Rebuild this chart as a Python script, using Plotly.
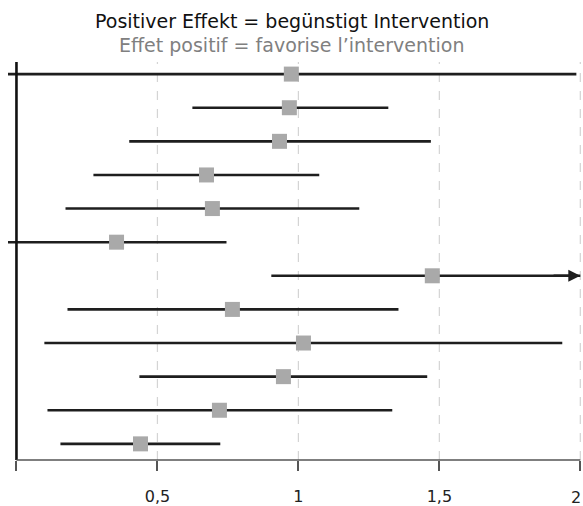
import plotly.graph_objects as go

# Data (rows top to bottom)
rows = list(range(1, 13))
point = [0.975, 0.968, 0.933, 0.674, 0.695, 0.355, 1.475, 0.766, 1.018, 0.947, 0.720, 0.440]
lower = [-0.10, 0.624, 0.400, 0.273, 0.174, -0.10, 0.904, 0.181, 0.099, 0.436, 0.110, 0.156]
upper = [1.986, 1.319, 1.470, 1.074, 1.216, 0.745, 2.300, 1.355, 1.936, 1.457, 1.333, 0.723]
tick_vals = [0, 0.5, 1, 1.5, 2]
tick_text = ["", "0,5", "1", "1,5", ""]
last_tick_label = "2"
title_de = "Positiver Effekt = begünstigt Intervention"
title_fr = "Effet positif = favorise l’intervention"

XMIN, XMAX = -0.03, 2.0
TITLE_FONT = "DejaVu Sans, Liberation Sans, Arial"
TICK_FONT = dict(family="DejaVu Sans, Liberation Sans, Arial", size=16, color="#222222")

fig = go.Figure()

# dashed gridlines
for v in tick_vals[1:]:
    fig.add_shape(type="line", x0=v, x1=v, y0=0, y1=1, xref="x", yref="paper",
                  line=dict(color="#d4d4d4", width=1.2, dash="dash"), layer="below")

# confidence intervals
arrows = []
for r, lo, hi in zip(rows, lower, upper):
    hi_c = min(hi, XMAX)
    fig.add_trace(go.Scatter(x=[lo, hi_c], y=[r, r], mode="lines",
                             line=dict(color="#1e1e1e", width=2.6),
                             hoverinfo="skip", showlegend=False))
    if hi > XMAX:
        arrows.append((r, hi_c))

for r, hx in arrows:
    fig.add_annotation(x=hx, y=r, ax=hx - 0.1, ay=r, xref="x", yref="y",
                       axref="x", ayref="y", text="", showarrow=True,
                       arrowhead=2, arrowsize=1.0, arrowwidth=2.4,
                       arrowcolor="#1e1e1e", standoff=0)

# point estimates
fig.add_trace(go.Scatter(x=point, y=rows, mode="markers",
                         marker=dict(symbol="square", size=15, color="#a9a9a9",
                                     line=dict(width=0)),
                         showlegend=False))

# vertical axis at 0
fig.add_shape(type="line", x0=0, x1=0, y0=0, y1=1, xref="x", yref="paper",
              line=dict(color="#111111", width=2.6))
# horizontal axis line from 0 to 2
fig.add_shape(type="line", x0=tick_vals[0], x1=tick_vals[-1], y0=0, y1=0,
              xref="x", yref="paper", line=dict(color="#555555", width=1.6))

# last tick label kept inside the page
fig.add_annotation(x=tick_vals[-1], y=0, xref="x", yref="paper", text=last_tick_label,
                   showarrow=False, xanchor="right", yanchor="middle", xshift=3,
                   yshift=-37, font=TICK_FONT)

fig.add_annotation(x=0.494, y=1.104, xref="paper", yref="paper", text=title_de,
                   showarrow=False, yanchor="middle",
                   font=dict(family=TITLE_FONT, size=19, color="#111111"))
fig.add_annotation(x=0.494, y=1.043, xref="paper", yref="paper", text=title_fr,
                   showarrow=False, yanchor="middle",
                   font=dict(family=TITLE_FONT, size=19, color="#808080"))

fig.update_xaxes(range=[XMIN, XMAX + 0.006], tickvals=tick_vals, ticktext=tick_text,
                 showgrid=False, zeroline=False, showline=False, automargin=False,
                 ticklabeloverflow="allow", ticklabelstandoff=12,
                 ticks="outside", ticklen=10, tickwidth=1.6, tickcolor="#555555",
                 tickfont=TICK_FONT)
fig.update_yaxes(range=[12.48, 0.64], showgrid=False, zeroline=False,
                 showticklabels=False, showline=False, ticks="", automargin=False)

fig.update_layout(width=583, height=506, margin=dict(l=8, r=1, t=62, b=46),
                  plot_bgcolor="white", paper_bgcolor="white")

fig.write_html("out.html", config={"displayModeBar": False},
               post_script="document.body.style.margin='0';"
                           "document.body.style.overflow='hidden';")
